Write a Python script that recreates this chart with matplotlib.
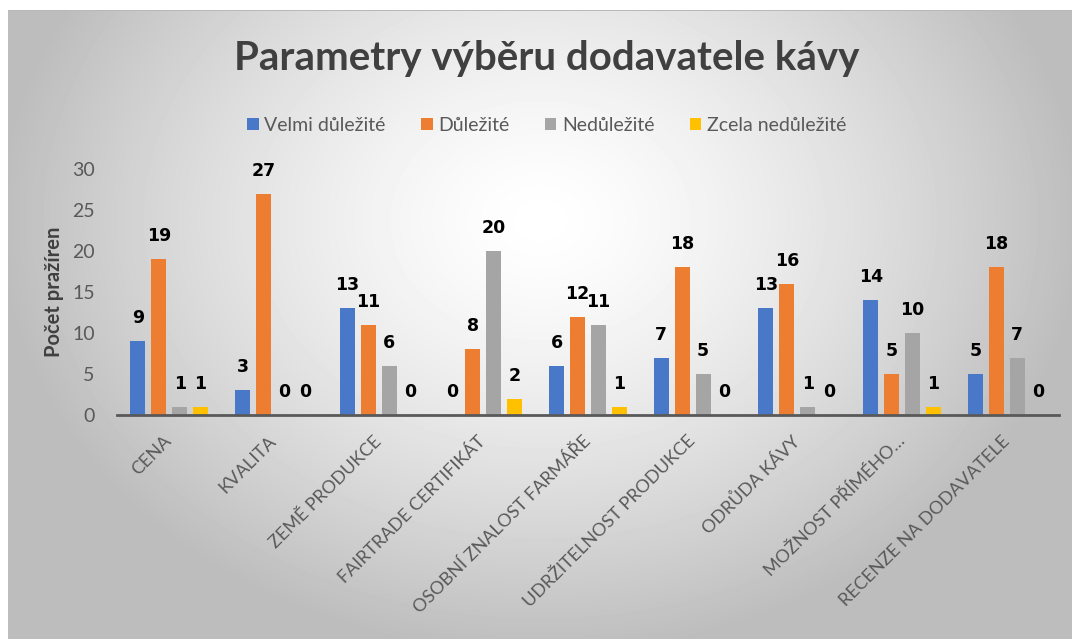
import numpy as np
import matplotlib.pyplot as plt

# categories and series values
categories = ['CENA', 'KVALITA', 'ZEMĚ PRODUKCE', 'FAIRTRADE CERTIFIKÁT',
              'OSOBNÍ ZNALOST FARMÁŘE', 'UDRŽITELNOST PRODUKCE', 'ODRŮDA KÁVY',
              'MOŽNOST PŘÍMÉHO…', 'RECENZE NA DODAVATELE']
velmi = [9, 3, 13, 0, 6, 7, 13, 14, 5]
dulezite = [19, 27, 11, 8, 12, 18, 16, 5, 18]
nedulezite = [1, 0, 6, 20, 11, 5, 1, 10, 7]
zcela = [1, 0, 0, 2, 1, 0, 0, 1, 0]
series_names = ['Velmi důležité', 'Důležité', 'Nedůležité', 'Zcela nedůležité']
colors = ['#4A78C8', '#ED7D31', '#A5A5A5', '#FFC000']
yticks = [0, 5, 10, 15, 20, 25, 30]

fig = plt.figure(figsize=(10.72, 6.39), dpi=100)

# radial grey background, white border on top/left
bg = fig.add_axes([0, 0, 1, 1], zorder=-10)
yy, xx = np.mgrid[0:639, 0:1072]
r = np.sqrt(((xx - 540) / 600.0) ** 2 + ((yy - 220) / 480.0) ** 2)
shade = np.clip(1.0 - 0.30 * r ** 1.4, 0.74, 1.0)
shade[:10, :] = 1.0
shade[:, :8] = 1.0
shade[10, 8:] = 0.72
bg.imshow(shade, cmap='gray', vmin=0, vmax=1, aspect='auto', interpolation='bilinear')
bg.axis('off')

ax = fig.add_axes([0.109, 0.3505, 0.879, 0.385])
ax.patch.set_alpha(0)

x = np.arange(len(categories))
slot = 0.2
width = 0.143
all_series = [velmi, dulezite, nedulezite, zcela]
for i, vals in enumerate(all_series):
    pos = x + (i - 1.5) * slot
    ax.bar(pos, vals, width, color=colors[i], label=series_names[i])
    for p, v in zip(pos, vals):
        ax.annotate(str(v), (p, v), xytext=(0, 23), textcoords='offset pixels',
                    ha='center', va='center', fontsize=12.5, fontweight='bold',
                    family='DejaVu Sans', color='black')

ax.set_xlim(-0.5, len(categories) - 0.5)
ax.set_ylim(0, 30)
ax.set_yticks(yticks)
ax.tick_params(axis='y', length=0, labelsize=14, labelcolor='#595959', pad=16)
for lbl in ax.get_yticklabels():
    lbl.set_family('Lato')
ax.set_xticks(x)
ax.set_xticklabels(categories, rotation=45, ha='right', va='center',
                   rotation_mode='anchor', fontsize=13, color='#595959', family='Lato')
ax.tick_params(axis='x', length=0, pad=17)

for s in ['top', 'right', 'left']:
    ax.spines[s].set_visible(False)
ax.spines['bottom'].set_color('#595959')
ax.spines['bottom'].set_linewidth(2)

ax.set_ylabel('Počet pražíren', fontsize=14.5, fontweight='bold', color='#404040',
              family='Lato', labelpad=6)

fig.text(0.51, 0.909, 'Parametry výběru dodavatele kávy', ha='center', va='center',
         fontsize=29, fontweight='bold', color='#404040', family='Lato')

leg = fig.legend(loc='center', bbox_to_anchor=(0.51, 0.804), ncol=4, frameon=False,
                 handlelength=0.6, handleheight=0.6, handletextpad=0.3,
                 columnspacing=1.8, prop={'family': 'Lato', 'size': 14})
for t in leg.get_texts():
    t.set_color('#595959')

fig.savefig('out.png', dpi=100)
